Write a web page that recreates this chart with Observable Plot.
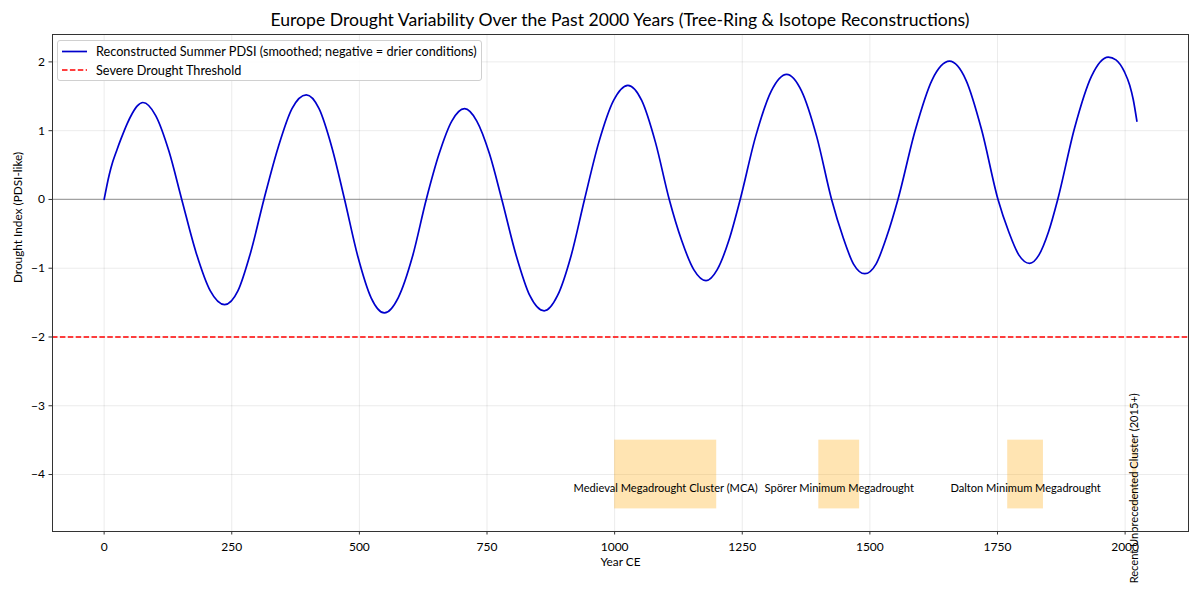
<!DOCTYPE html>
<html>
<head>
<meta charset="utf-8">
<script src="https://cdn.jsdelivr.net/npm/d3@7"></script>
<script src="https://cdn.jsdelivr.net/npm/@observablehq/plot@0.6"></script>
<style>
  html, body { margin: 0; padding: 0; background: #fff; }
  #wrap { position: relative; width: 1200px; height: 600px; font-family: Lato, "Noto Sans", sans-serif; }
  #title { position: absolute; left: 0; width: 1240px; top: 9px; text-align: center; font-size: 17.6px; color: #000; }
  #legend { position: absolute; left: 57px; top: 40px; width: 425px; height: 41px; box-sizing: border-box;
            border: 1px solid #d0d0d0; border-radius: 3px; background: rgba(255,255,255,0.85); }
  #legend svg { position: absolute; left: 0; top: 0; }
  #legend .lab { position: absolute; left: 38px; font-size: 12.7px; color: #000; line-height: 15px; white-space: nowrap; }
</style>
</head>
<body>
<div id="wrap">
  <div id="chart"></div>
  <div id="title"></div>
  <div id="legend"></div>
</div>
<script>
// ---- data ----
const years = [0, 10, 17, 25, 33, 45, 55, 65, 76, 101, 127, 152, 180, 208, 236, 262, 287, 313,
  341, 368, 396, 421, 446, 471, 497, 523, 549, 576, 604, 631, 656, 681, 706, 730, 755, 779,
  807, 834, 862, 888, 915, 941, 969, 998, 1026, 1053, 1080, 1107, 1131, 1155, 1179, 1201, 1224, 1246,
  1276, 1307, 1337, 1366, 1396, 1425, 1447, 1468, 1490, 1512, 1533, 1555, 1589, 1622, 1656, 1688, 1719, 1751,
  1772, 1792, 1813, 1831, 1850, 1868, 1901, 1934, 1967, 1982, 1999, 2009, 2016, 2023];
const pdsi = [0, 0.36, 0.55, 0.72, 0.88, 1.10, 1.25, 1.36, 1.41, 1.22, 0.70, 0, -0.77, -1.33, -1.53, -1.33, -0.77, 0,
  0.76, 1.32, 1.52, 1.32, 0.76, 0, -0.83, -1.43, -1.65, -1.43, -0.83, 0, 0.66, 1.14, 1.32, 1.14, 0.66, 0,
  -0.81, -1.40, -1.62, -1.40, -0.81, 0, 0.83, 1.44, 1.66, 1.44, 0.83, 0, -0.59, -1.02, -1.18, -1.02, -0.59, 0,
  0.91, 1.58, 1.82, 1.58, 0.91, 0, -0.54, -0.94, -1.08, -0.94, -0.54, 0, 1.01, 1.74, 2.01, 1.74, 1.01, 0,
  -0.47, -0.81, -0.93, -0.81, -0.47, 0, 1.04, 1.79, 2.07, 2.03, 1.85, 1.66, 1.45, 1.14];

const eventNames = ["Medieval Megadrought Cluster (MCA)", "Spörer Minimum Megadrought",
  "Dalton Minimum Megadrought", "Recent Unprecedented Cluster (2015+)"];
const eventStart = [1000, 1400, 1770, 2015];
const eventEnd = [1200, 1480, 1840, 2023];
const eventVertical = [false, false, false, true];
const eventBandLow = -4.5;
const eventBandHigh = -3.5;
const eventLabelY = -4.2;

const severeThreshold = -2;
const xTicks = [0, 250, 500, 750, 1000, 1250, 1500, 1750, 2000];
const yTicks = [-4, -3, -2, -1, 0, 1, 2];

const titleText = "Europe Drought Variability Over the Past 2000 Years (Tree-Ring & Isotope Reconstructions)";
const xLabel = "Year CE";
const yLabel = "Drought Index (PDSI-like)";
const seriesLabel = "Reconstructed Summer PDSI (smoothed; negative = drier conditions)";
const thresholdLabel = "Severe Drought Threshold";

// ---- build tables ----
const series = years.map((y, i) => ({year: y, value: pdsi[i]}));
const events = eventNames.map((n, i) => ({
  name: n, x1: eventStart[i], x2: eventEnd[i], mid: (eventStart[i] + eventEnd[i]) / 2, vertical: eventVertical[i]
}));

const xMin = d3.min(years), xMax = d3.max(eventEnd.concat(years));
const xPad = (xMax - xMin) * 0.05;
const yMin = Math.min(d3.min(pdsi), eventBandLow), yMax = Math.max(d3.max(pdsi), eventBandHigh);
const yPad = (yMax - yMin) * 0.05;

const font = "Lato, 'Noto Sans', sans-serif";

const chart = Plot.plot({
  width: 1200,
  height: 600,
  marginTop: 34,
  marginLeft: 52,
  marginRight: 12,
  marginBottom: 69,
  style: {fontFamily: font, fontSize: "12px", color: "#000", background: "#fff"},
  x: {domain: [xMin - xPad, xMax + xPad]},
  y: {domain: [yMin - yPad, yMax + yPad]},
  marks: [
    Plot.gridX(xTicks, {stroke: "#000", strokeOpacity: 0.1, strokeWidth: 0.8}),
    Plot.gridY(yTicks, {stroke: "#000", strokeOpacity: 0.1, strokeWidth: 0.8}),
    Plot.rect(events, {x1: "x1", x2: "x2", y1: eventBandLow, y2: eventBandHigh, fill: "orange", fillOpacity: 0.3}),
    Plot.ruleY([0], {stroke: "#808080", strokeOpacity: 0.7, strokeWidth: 1.2}),
    Plot.ruleY([severeThreshold], {stroke: "red", strokeWidth: 1.5, strokeDasharray: "5.5,2.4"}),
    Plot.line(series, {x: "year", y: "value", curve: "monotone-x", stroke: "#0000cc", strokeWidth: 1.7}),
    Plot.text(events.filter(d => !d.vertical), {x: "mid", y: eventLabelY, text: "name", fill: "#000", fontSize: 11.1}),
    Plot.text(events.filter(d => d.vertical), {x: "mid", y: eventLabelY, text: "name", rotate: -90, fill: "#000", fontSize: 11.1}),
    Plot.axisX(xTicks, {tickSize: 3.5, tickPadding: 7, label: null, stroke: "#333", tickFormat: d => String(d)}),
    Plot.axisY(yTicks, {tickSize: 3.5, tickPadding: 4, label: null, stroke: "#333", tickFormat: d => d < 0 ? "\u2212" + Math.abs(d) : String(d)}),
    Plot.text([xLabel], {frameAnchor: "bottom", dy: 34, text: d => d, fontSize: 11.8, fill: "#000"}),
    Plot.text([yLabel], {frameAnchor: "left", dx: -34, rotate: -90, text: d => d, fontSize: 11.8, fill: "#000"}),
    Plot.frame({stroke: "#333", strokeWidth: 1})
  ]
});
document.getElementById("chart").appendChild(chart);
document.getElementById("title").textContent = titleText;

// legend
const leg = document.getElementById("legend");
leg.innerHTML = `<svg width="425" height="41">
  <line x1="4" x2="29" y1="10.5" y2="10.5" stroke="#0000cc" stroke-width="1.7"/>
  <line x1="4" x2="29" y1="29" y2="29" stroke="red" stroke-width="1.5" stroke-dasharray="5.5,2.4"/>
</svg>
<div class="lab" style="top:3px"></div><div class="lab" style="top:21.5px"></div>`;
const labs = leg.querySelectorAll(".lab");
labs[0].textContent = seriesLabel;
labs[1].textContent = thresholdLabel;
</script>
</body>
</html>
